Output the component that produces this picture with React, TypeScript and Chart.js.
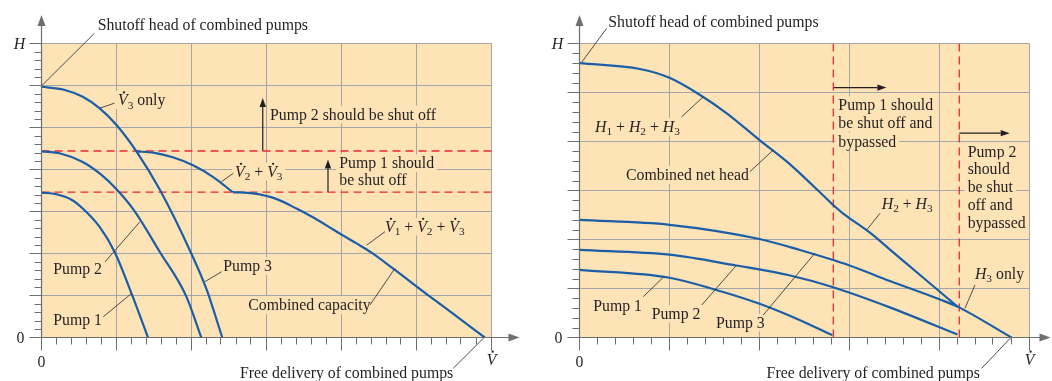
import React, { useEffect, useRef } from 'react';
import { Chart, registerables } from 'chart.js';
Chart.register(...registerables);

const FONT = '"Liberation Serif", "Times New Roman", serif';
const TEXT = '#231f20';
const BG = '#fde3b6';
const GRID = '#a3a5a8';
const AXIS = '#6d6e71';
const BLUE = '#1a5ea8';
const RED = '#ec2a32';
const FS = 15.8;

// ---------- Left panel: pumps in parallel (units of grid cells) ----------
const lXMax = 6;
const lYMax = 7;
const lPump1Q = [0, 0.2, 0.4, 0.55, 0.78, 0.98, 1.2, 1.42];
const lPump1H = [3.45, 3.41, 3.28, 3.07, 2.62, 2.02, 1.05, 0];
const lPump2Q = [0, 0.25, 0.55, 0.78, 1.0, 1.22, 1.58, 1.93, 2.13];
const lPump2H = [4.43, 4.38, 4.18, 3.9, 3.53, 3.06, 2.03, 0.98, 0];
const lPump3Q = [0, 0.3, 0.55, 0.78, 1.0, 1.27, 1.58, 2.0, 2.2, 2.41];
const lPump3H = [5.97, 5.9, 5.73, 5.45, 5.06, 4.42, 3.51, 1.99, 1.15, 0];
const lComb23Q = [1.27, 1.49, 1.75, 2.02, 2.29, 2.55];
const lComb23H = [4.43, 4.4, 4.29, 4.1, 3.82, 3.46];
const lComb123Q = [2.55, 2.82, 3.13, 3.4, 3.6, 3.8, 4.0, 4.2, 4.4, 4.69, 5.13, 5.5, 5.91];
const lComb123H = [3.46, 3.43, 3.3, 3.07, 2.88, 2.67, 2.45, 2.24, 2.02, 1.64, 1.04, 0.55, 0];
const lShutLevels = [4.44, 3.46];

// ---------- Right panel: pumps in series ----------
const rXMax = 5;
const rYMax = 6;
const rPump1Q = [0, 1.0, 1.52, 2.0, 2.33, 2.81];
const rPump1H = [1.38, 1.22, 0.97, 0.69, 0.45, 0.05];
const rPump2Q = [0, 1.0, 1.74, 2.33, 2.81, 3.44, 4.2];
const rPump2H = [1.79, 1.69, 1.47, 1.27, 1.03, 0.62, 0.06];
const rPump3Q = [0, 1.0, 2.0, 2.44, 3.0, 3.44, 4.0, 4.2, 4.8];
const rPump3H = [2.4, 2.3, 2.01, 1.79, 1.47, 1.16, 0.78, 0.63, 0];
const rComb123Q = [0, 0.67, 1.0, 1.34, 1.64, 2.0, 2.33, 2.82];
const rComb123H = [5.6, 5.48, 5.3, 4.95, 4.57, 4.03, 3.55, 2.7];
const rComb23Q = [2.82, 2.93, 3.22, 3.44, 3.8, 4.2];
const rComb23H = [2.7, 2.53, 2.15, 1.81, 1.25, 0.63];
const rBypassFlows = [2.82, 4.22];

// ---------- rich text ----------
const N = 0, I = 1, S = 2, D = 3;
type Seg = [string, number];
const Vd = (n: string): Seg[] => [['V', D], [n, S]];
const Hs = (n: string): Seg[] => [['H', I], [n, S]];
const plain = (t: string): Seg[] => [[t, N]];

function segFont(st: number, size: number) {
  const fs = st === S ? size * 0.72 : size;
  return `${st === I || st === D ? 'italic ' : ''}${fs}px ${FONT}`;
}
function richWidth(ctx: CanvasRenderingContext2D, segs: Seg[], size: number) {
  let w = 0;
  for (const [t, st] of segs) {
    ctx.font = segFont(st, size);
    w += ctx.measureText(t).width;
  }
  return w;
}
function drawRich(ctx: CanvasRenderingContext2D, segs: Seg[], x: number, cy: number, size: number, align: string, box: boolean) {
  const w = richWidth(ctx, segs, size);
  let cx = align === 'center' ? x - w / 2 : x;
  if (box) {
    ctx.fillStyle = BG;
    ctx.fillRect(cx - 3, cy - size * 0.56, w + 6, size * 1.12);
  }
  const base = cy + size * 0.33;
  ctx.textBaseline = 'alphabetic';
  ctx.textAlign = 'left';
  ctx.fillStyle = TEXT;
  for (const [t, st] of segs) {
    ctx.font = segFont(st, size);
    const tw = ctx.measureText(t).width;
    const dy = st === S ? size * 0.22 : 0;
    ctx.fillText(t, cx, base + dy);
    if (st === D) {
      ctx.beginPath();
      ctx.arc(cx + tw * 0.62, base - size * 0.66 - 2.6, 1.15, 0, Math.PI * 2);
      ctx.fill();
    }
    cx += tw;
  }
}

type Label = { x: number; y: number; segs: Seg[]; box?: boolean };
type Panel = {
  xMax: number; yMax: number;
  pad: { left: number; right: number; top: number; bottom: number };
  labels: Label[];
  leaders: number[][];
  arrows: number[][];
  xArrowExtra: number;
};

const leftPanel: Panel = {
  xMax: lXMax, yMax: lYMax,
  pad: { left: 41.5, right: 34.5, top: 43.5, bottom: 43.5 },
  xArrowExtra: 28,
  labels: [
    { x: 0.749, y: 7.44, segs: plain('Shutoff head of combined pumps') },
    { x: 1.02, y: 5.65, segs: [...Vd('3'), [' only', N]], box: true },
    { x: 3.047, y: 5.31, segs: plain('Pump 2 should be shut off'), box: true },
    { x: 3.97, y: 4.15, segs: plain('Pump 1 should'), box: true },
    { x: 3.97, y: 3.75, segs: plain('be shut off'), box: true },
    { x: 2.58, y: 3.95, segs: [...Vd('2'), [' + ', N], ...Vd('3')], box: true },
    { x: 4.58, y: 2.64, segs: [...Vd('1'), [' + ', N], ...Vd('2'), [' + ', N], ...Vd('3')], box: true },
    { x: 0.157, y: 1.63, segs: plain('Pump 2'), box: true },
    { x: 0.157, y: 0.417, segs: plain('Pump 1'), box: true },
    { x: 2.424, y: 1.7, segs: plain('Pump 3'), box: true },
    { x: 2.757, y: 0.774, segs: plain('Combined capacity'), box: true },
    { x: 2.647, y: -0.852, segs: plain('Free delivery of combined pumps') },
  ],
  leaders: [
    [0, 5.99, 0.704, 7.24],
    [0.78, 5.46, 0.973, 5.58],
    [2.4, 3.71, 2.557, 3.91],
    [4.336, 2.2, 4.58, 2.52],
    [0.847, 1.8, 1.313, 2.757],
    [0.824, 0.495, 1.203, 1.052],
    [2.18, 1.33, 2.403, 1.567],
    [4.38, 0.774, 4.713, 1.648],
    [5.49, -0.733, 5.913, 0.02],
  ],
  arrows: [
    [2.95, 4.44, 2.95, 5.7],
    [3.82, 3.46, 3.82, 4.24],
  ],
};

const rightPanel: Panel = {
  xMax: rXMax, yMax: rYMax,
  pad: { left: 53.5, right: 22.5, top: 43.5, bottom: 43.5 },
  xArrowExtra: 21,
  labels: [
    { x: 0.32, y: 6.445, segs: plain('Shutoff head of combined pumps') },
    { x: 0.172, y: 4.3, segs: [...Hs('1'), [' + ', N], ...Hs('2'), [' + ', N], ...Hs('3')], box: true },
    { x: 0.517, y: 3.316, segs: plain('Combined net head'), box: true },
    { x: 2.876, y: 4.745, segs: plain('Pump 1 should'), box: true },
    { x: 2.876, y: 4.384, segs: plain('be shut off and'), box: true },
    { x: 2.876, y: 3.996, segs: plain('bypassed'), box: true },
    { x: 4.313, y: 3.792, segs: plain('Pump 2'), box: true },
    { x: 4.313, y: 3.453, segs: plain('should'), box: true },
    { x: 4.313, y: 3.078, segs: plain('be shut'), box: true },
    { x: 4.313, y: 2.704, segs: plain('off and'), box: true },
    { x: 4.313, y: 2.343, segs: plain('bypassed'), box: true },
    { x: 3.358, y: 2.739, segs: [...Hs('2'), [' + ', N], ...Hs('3')], box: true },
    { x: 4.394, y: 1.31, segs: [...Hs('3'), [' only', N]], box: true },
    { x: 0.153, y: 0.643, segs: plain('Pump 1'), box: true },
    { x: 0.802, y: 0.48, segs: plain('Pump 2'), box: true },
    { x: 1.517, y: 0.302, segs: plain('Pump 3'), box: true },
    { x: 2.079, y: -0.73, segs: plain('Free delivery of combined pumps') },
  ],
  leaders: [
    [0.024, 5.616, 0.302, 6.31],
    [1.136, 4.506, 1.376, 4.914],
    [1.894, 3.384, 2.153, 3.827],
    [3.191, 2.194, 3.339, 2.535],
    [4.283, 0.596, 4.394, 1.071],
    [0.709, 0.833, 0.931, 1.229],
    [1.358, 0.663, 1.747, 1.48],
    [2.042, 0.459, 2.617, 1.724],
    [4.469, -0.629, 4.802, 0.016],
  ],
  arrows: [
    [2.82, 5.1, 3.41, 5.1],
    [4.22, 4.17, 4.78, 4.17],
  ],
};

const pts = (xs: number[], ys: number[]) => xs.map((x, i) => ({ x, y: ys[i] }));
const curve = (xs: number[], ys: number[]) => ({
  data: pts(xs, ys), borderColor: BLUE, borderWidth: 2.2, pointRadius: 0, fill: false,
  cubicInterpolationMode: 'monotone', order: 1,
});
const dashed = (xs: number[], ys: number[]) => ({
  data: pts(xs, ys), borderColor: RED, borderWidth: 1.3, borderDash: [8, 5], pointRadius: 0,
  fill: false, tension: 0, order: 5,
});

const leftDatasets = [
  ...lShutLevels.map((h) => dashed([0, lXMax], [h, h])),
  curve(lPump1Q, lPump1H),
  curve(lPump2Q, lPump2H),
  curve(lPump3Q, lPump3H),
  curve(lComb23Q, lComb23H),
  curve(lComb123Q, lComb123H),
];
const rightDatasets = [
  ...rBypassFlows.map((q) => dashed([q, q], [0, rYMax])),
  curve(rPump1Q, rPump1H),
  curve(rPump2Q, rPump2H),
  curve(rPump3Q, rPump3H),
  curve(rComb123Q, rComb123H),
  curve(rComb23Q, rComb23H),
];

function decorPlugin(p: Panel) {
  return {
    id: 'decor',
    beforeDraw(chart: any) {
      const { ctx, chartArea: a } = chart;
      ctx.save();
      ctx.fillStyle = '#ffffff';
      ctx.fillRect(0, 0, chart.width, chart.height);
      ctx.fillStyle = BG;
      ctx.fillRect(a.left, a.top, a.right - a.left, a.bottom - a.top);
      ctx.restore();
    },
    beforeDatasetsDraw(chart: any) {
      const { ctx, chartArea: a, scales } = chart;
      const xs = scales.x, ys = scales.y;
      ctx.save();
      ctx.strokeStyle = GRID;
      ctx.lineWidth = 1;
      ctx.beginPath();
      for (let i = 1; i <= p.xMax; i++) {
        const x = xs.getPixelForValue(i);
        ctx.moveTo(x, a.top); ctx.lineTo(x, a.bottom);
      }
      for (let j = 1; j <= p.yMax; j++) {
        const y = ys.getPixelForValue(j);
        ctx.moveTo(a.left, y); ctx.lineTo(a.right, y);
      }
      ctx.stroke();
      for (const l of p.labels) {
        if (!l.box) continue;
        drawRich(ctx, l.segs, xs.getPixelForValue(l.x), ys.getPixelForValue(l.y), FS, 'left', true);
      }
      // arrows
      ctx.strokeStyle = TEXT; ctx.fillStyle = TEXT; ctx.lineWidth = 1.2;
      for (const [x1, y1, x2, y2] of p.arrows) {
        const X1 = xs.getPixelForValue(x1), Y1 = ys.getPixelForValue(y1);
        const X2 = xs.getPixelForValue(x2), Y2 = ys.getPixelForValue(y2);
        const ang = Math.atan2(Y2 - Y1, X2 - X1);
        const hl = 9, hw = 3.2;
        ctx.beginPath(); ctx.moveTo(X1, Y1);
        ctx.lineTo(X2 - Math.cos(ang) * hl, Y2 - Math.sin(ang) * hl); ctx.stroke();
        ctx.beginPath();
        ctx.moveTo(X2, Y2);
        ctx.lineTo(X2 - Math.cos(ang) * hl - Math.sin(ang) * hw, Y2 - Math.sin(ang) * hl + Math.cos(ang) * hw);
        ctx.lineTo(X2 - Math.cos(ang) * hl + Math.sin(ang) * hw, Y2 - Math.sin(ang) * hl - Math.cos(ang) * hw);
        ctx.closePath(); ctx.fill();
      }
      ctx.restore();
    },
    afterDatasetsDraw(chart: any) {
      const { ctx, chartArea: a, scales } = chart;
      const xs = scales.x, ys = scales.y;
      ctx.save();
      // leader lines
      ctx.strokeStyle = '#3a3a3a'; ctx.lineWidth = 0.9;
      ctx.beginPath();
      for (const [x1, y1, x2, y2] of p.leaders) {
        ctx.moveTo(xs.getPixelForValue(x1), ys.getPixelForValue(y1));
        ctx.lineTo(xs.getPixelForValue(x2), ys.getPixelForValue(y2));
      }
      ctx.stroke();
      // axes
      ctx.strokeStyle = AXIS; ctx.fillStyle = AXIS; ctx.lineWidth = 1.2;
      const tipX = a.right + p.xArrowExtra;
      const tipY = 15;
      ctx.beginPath();
      ctx.moveTo(a.left, a.bottom); ctx.lineTo(tipX - 8, a.bottom);
      ctx.moveTo(a.left, a.bottom); ctx.lineTo(a.left, tipY + 8);
      ctx.stroke();
      ctx.beginPath();
      ctx.moveTo(tipX, a.bottom); ctx.lineTo(tipX - 11, a.bottom - 4); ctx.lineTo(tipX - 11, a.bottom + 4); ctx.closePath(); ctx.fill();
      ctx.beginPath();
      ctx.moveTo(a.left, tipY); ctx.lineTo(a.left - 4, tipY + 11); ctx.lineTo(a.left + 4, tipY + 11); ctx.closePath(); ctx.fill();
      // ticks
      ctx.lineWidth = 1;
      ctx.beginPath();
      for (let i = 0; i <= p.xMax * 5; i++) {
        const xx = i % 5 === 0 ? xs.getPixelForValue(i / 5) : Math.round(xs.getPixelForValue(i / 5)) - 0.5;
        ctx.moveTo(xx, a.bottom); ctx.lineTo(xx, a.bottom + (i % 5 === 0 ? 13 : 7));
      }
      for (let j = 0; j <= p.yMax * 5; j++) {
        const y = j % 5 === 0 ? ys.getPixelForValue(j / 5) : Math.round(ys.getPixelForValue(j / 5)) + 0.5;
        ctx.moveTo(a.left, y); ctx.lineTo(a.left - (j % 5 === 0 ? 12 : 7), y);
      }
      ctx.stroke();
      // axis labels
      drawRich(ctx, [['H', I]], a.left - 22, a.top, FS, 'center', false);
      drawRich(ctx, plain('0'), a.left - 21, a.bottom, FS, 'center', false);
      drawRich(ctx, plain('0'), a.left, a.bottom + 24, FS, 'center', false);
      drawRich(ctx, [['V', D]], a.right, a.bottom + 22, FS, 'center', false);
      for (const l of p.labels) {
        if (l.box) continue;
        drawRich(ctx, l.segs, xs.getPixelForValue(l.x), ys.getPixelForValue(l.y), FS, 'left', false);
      }
      ctx.restore();
    },
  };
}

function PanelChart({ panel, datasets, left }: { panel: Panel; datasets: any[]; left: number }) {
  const ref = useRef<HTMLCanvasElement | null>(null);
  useEffect(() => {
    if (!ref.current) return;
    const chart = new Chart(ref.current, {
      type: 'line',
      data: { datasets },
      options: {
        responsive: false,
        animation: false,
        events: [],
        layout: { padding: panel.pad },
        plugins: { legend: { display: false }, tooltip: { enabled: false } },
        scales: {
          x: { type: 'linear', min: 0, max: panel.xMax, display: false },
          y: { type: 'linear', min: 0, max: panel.yMax, display: false },
        },
      } as any,
      plugins: [decorPlugin(panel)],
    } as any);
    return () => chart.destroy();
  }, []);
  return (
    <canvas
      ref={ref}
      width={526}
      height={381}
      style={{ position: 'absolute', left, top: 0, width: 526, height: 381, display: 'block' }}
    />
  );
}

export default function App() {
  return (
    <div style={{ position: 'absolute', left: 0, top: 0, width: 1052, height: 381, background: '#fff', overflow: 'hidden' }}>
      <PanelChart panel={leftPanel} datasets={leftDatasets} left={0} />
      <PanelChart panel={rightPanel} datasets={rightDatasets} left={526} />
    </div>
  );
}
